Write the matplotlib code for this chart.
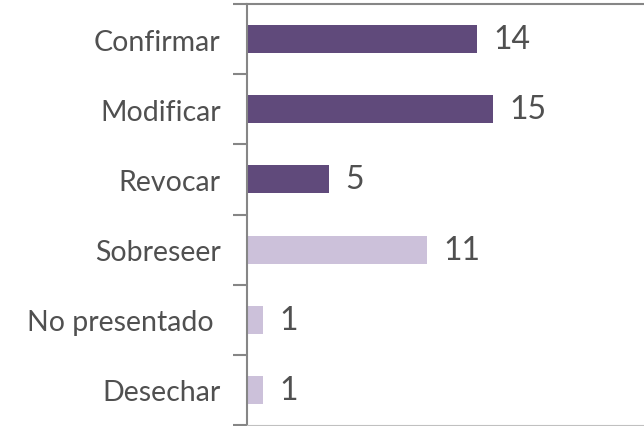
import matplotlib.pyplot as plt
from matplotlib.ticker import FixedLocator

plt.rcParams['font.family'] = ['Lato', 'DejaVu Sans']

categories = ['Confirmar', 'Modificar', 'Revocar', 'Sobreseer', 'No presentado ', 'Desechar']
values = [14, 15, 5, 11, 1, 1]
colors = ['#604A7B', '#604A7B', '#604A7B', '#CCC1DA', '#CCC1DA', '#CCC1DA']

fig = plt.figure(figsize=(6.44, 4.27), dpi=100)
ax = fig.add_axes([247 / 644, 1 / 427, 1 - 247 / 644, 421 / 427])

pos = list(range(len(categories)))[::-1]
ax.barh(pos, values, height=0.4, color=colors)
for y, v in zip(pos, values):
    ax.text(v + 1.0, y, str(v), va='center', ha='left', fontsize=23, color='#505050')

ax.set_xlim(0, 24.2)
ax.set_ylim(-0.5, len(categories) - 0.5)
ax.set_yticks(pos)
ax.set_yticklabels(categories, fontsize=20.5, color='#505050')
ax.yaxis.set_minor_locator(FixedLocator([p + 0.5 for p in range(-1, len(categories))]))
ax.tick_params(axis='y', which='major', length=0, pad=19)
ax.tick_params(axis='y', which='minor', length=10, width=1.5, color='#868686')
ax.set_xticks([])

for s in ['left', 'top']:
    ax.spines[s].set_color('#868686')
    ax.spines[s].set_linewidth(1.5)
ax.spines['right'].set_visible(False)
ax.spines['bottom'].set_color('#C0C0C0')

fig.savefig('out.png', dpi=100)
